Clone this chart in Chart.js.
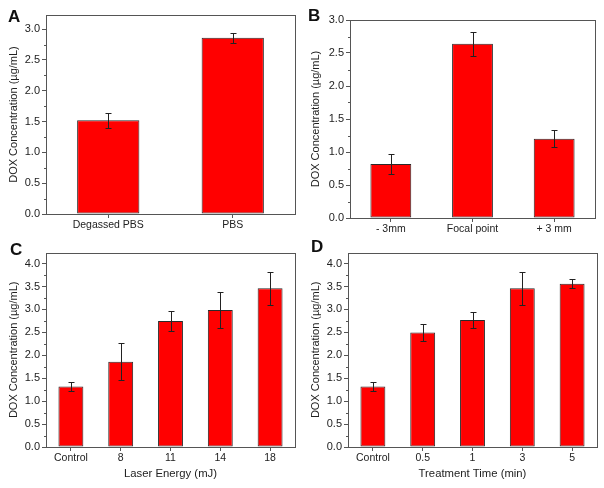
<!DOCTYPE html>
<html>
<head>
<meta charset="utf-8">
<script src="https://cdn.jsdelivr.net/npm/chart.js@4/dist/chart.umd.min.js"></script>
<style>
  html, body { margin: 0; padding: 0; background: #fff; }
  body { width: 604px; height: 488px; position: relative; overflow: hidden; }
  canvas { position: absolute; }
  .lbl { position: absolute; font: bold 17px "Liberation Sans", Arial, sans-serif; line-height: 17px; color: #111; }
</style>
</head>
<body>
<canvas id="cA" width="302" height="244" style="left:0;top:0"></canvas>
<canvas id="cB" width="302" height="244" style="left:302px;top:0"></canvas>
<canvas id="cC" width="302" height="244" style="left:0;top:244px"></canvas>
<canvas id="cD" width="302" height="244" style="left:302px;top:244px"></canvas>
<div class="lbl" style="left:8px;top:8px">A</div>
<div class="lbl" style="left:308px;top:7px">B</div>
<div class="lbl" style="left:10px;top:241px">C</div>
<div class="lbl" style="left:311px;top:238px">D</div>
<script>
// ---- data ----
const catsA = ['Degassed PBS', 'PBS'];
const valsA = [1.52, 2.86];
const errA  = [0.12, 0.08];

const catsB = ['- 3mm', 'Focal point', '+ 3 mm'];
const valsB = [0.82, 2.64, 1.20];
const errB  = [0.15, 0.18, 0.13];

const catsC = ['Control', '8', '11', '14', '18'];
const valsC = [1.32, 1.86, 2.75, 2.99, 3.46];
const errC  = [0.10, 0.40, 0.22, 0.40, 0.36];

const catsD = ['Control', '0.5', '1', '3', '5'];
const valsD = [1.32, 2.50, 2.77, 3.46, 3.56];
const errD  = [0.10, 0.18, 0.18, 0.36, 0.10];

const yTitle = 'DOX Concentration (\u00b5g/mL)';
const xTitleC = 'Laser Energy (mJ)';
const xTitleD = 'Treatment Time (min)';
const yMajorStep = 0.5;
const yMinorStep = 0.25;

// ---- rendering ----
const FONT = '"Liberation Sans", Arial, sans-serif';
const AXIS = '#555';
const TEXT = '#222';

const errPlugin = {
  id: 'errbars',
  afterDatasetsDraw(chart) {
    const ctx = chart.ctx;
    const ys = chart.scales.y;
    const errs = chart.options.plugins.errbars.errors;
    const meta = chart.getDatasetMeta(0);
    const vals = chart.data.datasets[0].data;
    ctx.save();
    ctx.strokeStyle = '#222';
    ctx.lineWidth = 1;
    meta.data.forEach((bar, i) => {
      const x = Math.round(bar.x) + 0.5;
      const yt = Math.round(ys.getPixelForValue(vals[i] + errs[i])) + 0.5;
      const yb = Math.round(ys.getPixelForValue(vals[i] - errs[i])) + 0.5;
      ctx.beginPath();
      ctx.moveTo(x, yt); ctx.lineTo(x, yb);
      ctx.moveTo(x - 3, yt); ctx.lineTo(x + 3, yt);
      ctx.moveTo(x - 3, yb); ctx.lineTo(x + 3, yb);
      ctx.stroke();
    });
    // frame
    const a = chart.chartArea;
    ctx.strokeStyle = AXIS;
    ctx.strokeRect(Math.round(a.left) + 0.5, Math.round(a.top) + 0.5,
                   Math.round(a.right - a.left), Math.round(a.bottom - a.top));
    // minor ticks
    ctx.beginPath();
    for (let v = yMinorStep; v < ys.max; v += yMajorStep) {
      const y = Math.round(ys.getPixelForValue(v)) + 0.5;
      ctx.moveTo(Math.round(a.left), y);
      ctx.lineTo(Math.round(a.left) - 2, y);
    }
    ctx.stroke();
    ctx.restore();
  }
};

function makeChart(id, cats, vals, errs, cfg) {
  return new Chart(document.getElementById(id), {
    type: 'bar',
    data: {
      labels: cats,
      datasets: [{
        data: vals,
        backgroundColor: '#ff0000',
        borderColor: '#2a2a2a',
        borderWidth: 1,
        borderSkipped: false,
        categoryPercentage: 1.0,
        barPercentage: 0.5
      }]
    },
    plugins: [errPlugin],
    options: {
      responsive: false,
      devicePixelRatio: 1,
      animation: false,
      layout: { padding: { left: 0, top: cfg.top, right: cfg.right, bottom: 0 } },
      plugins: {
        legend: { display: false },
        tooltip: { enabled: false },
        errbars: { errors: errs }
      },
      scales: {
        x: {
          type: 'category',
          afterFit: s => { s.height = cfg.xh; },
          border: { display: false },
          grid: { display: true, drawOnChartArea: false, drawTicks: true, tickLength: 4, offset: false, color: AXIS },
          ticks: { font: { family: FONT, size: 10.5 }, color: TEXT, padding: 1, maxRotation: 0, autoSkip: false },
          title: cfg.xTitle ? { display: true, text: cfg.xTitle, font: { family: FONT, size: 11.3 }, color: TEXT, padding: { top: 0, bottom: 7 } } : { display: false }
        },
        y: {
          min: 0,
          max: cfg.ymax,
          afterFit: s => { s.width = cfg.yw; },
          afterBuildTicks: s => {
            const out = [];
            const n = Math.floor(s.max / yMajorStep + 1e-9);
            for (let k = 0; k <= n; k++) out.push({ value: k * yMajorStep });
            s.ticks = out;
          },
          border: { display: false },
          grid: { display: true, drawOnChartArea: false, drawTicks: true, tickLength: 4, color: AXIS },
          ticks: { stepSize: yMajorStep, font: { family: FONT, size: 11 }, color: TEXT, padding: 2,
                   callback: v => Number(v).toFixed(1) },
          title: { display: true, text: yTitle, font: { family: FONT, size: 11 }, color: TEXT, padding: { top: 7, bottom: 0 } }
        }
      }
    }
  });
}

makeChart('cA', catsA, valsA, errA, { top: 15, right: 7, xh: 30, yw: 46, ymax: 3.23 });
makeChart('cB', catsB, valsB, errB, { top: 20, right: 9, xh: 26, yw: 48, ymax: 3.0 });
makeChart('cC', catsC, valsC, errC, { top: 5, right: 7, xh: 41, yw: 46, ymax: 4.24, xTitle: xTitleC });
makeChart('cD', catsD, valsD, errD, { top: 5, right: 7, xh: 41, yw: 46, ymax: 4.24, xTitle: xTitleD });
</script>
</body>
</html>
